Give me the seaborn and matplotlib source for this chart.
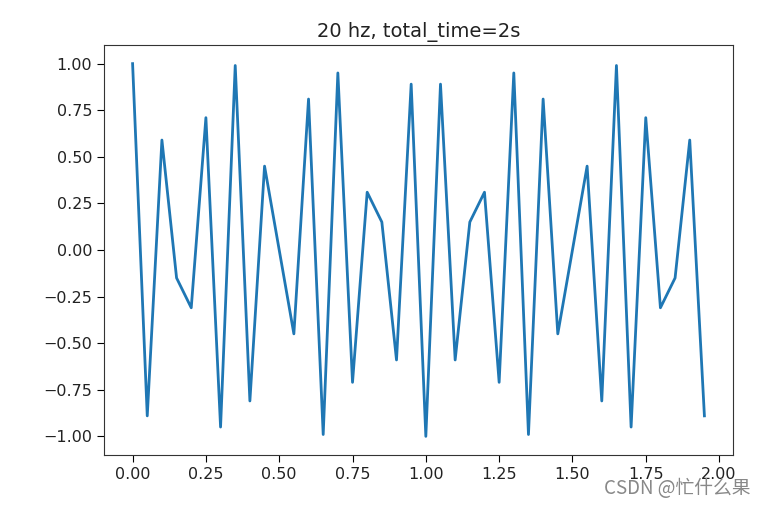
import matplotlib
matplotlib.use("Agg")
import matplotlib.pyplot as plt
import seaborn as sns
import pandas as pd

t = [0.00, 0.05, 0.10, 0.15, 0.20, 0.25, 0.30, 0.35, 0.40, 0.45,
     0.50, 0.55, 0.60, 0.65, 0.70, 0.75, 0.80, 0.85, 0.90, 0.95,
     1.00, 1.05, 1.10, 1.15, 1.20, 1.25, 1.30, 1.35, 1.40, 1.45,
     1.50, 1.55, 1.60, 1.65, 1.70, 1.75, 1.80, 1.85, 1.90, 1.95]
y = [1.00, -0.89, 0.59, -0.15, -0.31, 0.71, -0.95, 0.99, -0.81, 0.45,
     0.00, -0.45, 0.81, -0.99, 0.95, -0.71, 0.31, 0.15, -0.59, 0.89,
     -1.00, 0.89, -0.59, 0.15, 0.31, -0.71, 0.95, -0.99, 0.81, -0.45,
     0.00, 0.45, -0.81, 0.99, -0.95, 0.71, -0.31, -0.15, 0.59, -0.89]
title = "20 hz, total_time=2s"
watermark = "CSDN @忙什么果"

df = pd.DataFrame({"t": t, "y": y})

plt.rcParams['font.family'] = ['DejaVu Sans', 'Noto Sans CJK SC']
fig = plt.figure(figsize=(7.65, 5.07), dpi=100)
ax = fig.add_axes([104/765, 1 - 455/507, (733-104)/765, (455-45)/507])
sns.lineplot(data=df, x="t", y="y", ax=ax, color="#1f77b4", linewidth=2.0)
ax.set_xlabel("")
ax.set_ylabel("")
ax.set_title(title, fontsize=14, pad=6, color="#222222")
ax.set_xticks([0.0, 0.25, 0.5, 0.75, 1.0, 1.25, 1.5, 1.75, 2.0])
ax.set_yticks([-1.0, -0.75, -0.5, -0.25, 0.0, 0.25, 0.5, 0.75, 1.0])
ax.set_xlim(-0.0975, 2.0475)
ax.set_ylim(-1.1, 1.1)
ax.tick_params(labelsize=11.5, length=5, labelcolor="#222222")
for s in ax.spines.values():
    s.set_color("#333333")
fig.text(750/765, 1 - 489/507, watermark, ha="right", va="center",
         fontsize=13.5, color="#888888", family=['Noto Sans CJK SC', 'DejaVu Sans'])
fig.savefig("out.png", dpi=100)
